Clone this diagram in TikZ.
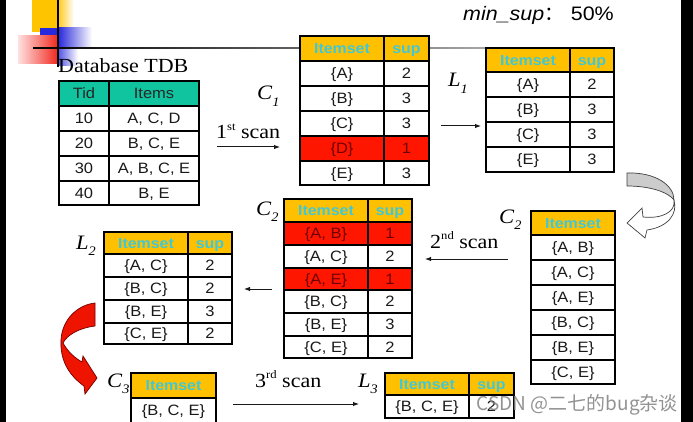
\documentclass[tikz,border=0pt]{standalone}
\usepackage{fontspec}
\setmainfont{Liberation Serif}[FakeStretch=1.1]
\setsansfont{Liberation Sans}[FakeStretch=1.1]
\newfontfamily\cjkfont{Noto Sans CJK SC}
\usetikzlibrary{arrows.meta}

\definecolor{hdrgold}{RGB}{255,192,0}
\definecolor{itemcyan}{RGB}{64,200,214}
\definecolor{tdbteal}{RGB}{16,196,160}
\definecolor{rowred}{RGB}{255,22,0}
\definecolor{redtext}{RGB}{110,0,0}
\definecolor{decoyellow}{RGB}{255,196,0}
\definecolor{decoblue}{RGB}{40,40,220}
\definecolor{decored}{RGB}{240,40,30}
\definecolor{arrowred}{RGB}{238,20,0}

\tikzset{
  tabfont/.style={font=\sffamily\fontsize{15}{16}\selectfont},
  celltxt/.style={tabfont,inner sep=0pt,text height=10.6pt,text depth=0pt},
  hdr box/.style={draw=black,line width=1.2pt,fill=hdrgold},
  hdr txt/.style={celltxt,font=\sffamily\bfseries\fontsize{14.5}{15}\selectfont,text=itemcyan},
  pl box/.style={draw=black,line width=1.2pt,fill=white},
  pl txt/.style={celltxt,text=black!90},
  red box/.style={draw=black,line width=1.2pt,fill=rowred},
  red txt/.style={celltxt,text=redtext},
  tdb box/.style={draw=black,line width=1.2pt,fill=tdbteal},
  tdb txt/.style={celltxt,text=black!85},
  lbl/.style={font=\fontsize{20.5}{20}\selectfont,inner sep=0pt,anchor=base west},
  scanlbl/.style={font=\fontsize{20}{20}\selectfont,inner sep=0pt,anchor=base west},
  flow/.style={-{Latex[length=6pt,width=4.5pt]},line width=1pt,black!90},
}

\newcommand\tworow[9]{%
  \path[#7 box] (#2,#5) rectangle (#3,#6);
  \path[#7 box] (#3,#5) rectangle (#4,#6);
  \node[#7 txt] (#1a) at ({(#2+#3)/2},{(#5+#6)/2}) {#8};
  \node[#7 txt] (#1b) at ({(#3+#4)/2},{(#5+#6)/2}) {#9};}
\newcommand\onerow[7]{%
  \path[#6 box] (#2,#4) rectangle (#3,#5);
  \node[#6 txt] (#1) at ({(#2+#3)/2},{(#4+#5)/2}) {#7};}
\newcommand\setlab[2]{\textit{#1}\raisebox{-0.3em}{\fontsize{13}{13}\selectfont\textit{#2}}}
\newcommand\sups[1]{\raisebox{0.42em}{\fontsize{11.5}{12}\selectfont #1}}

\begin{document}
\begin{tikzpicture}[x=1pt,y=-1pt]
\fill[white] (0,0) rectangle (693,422);
\useasboundingbox (0,0) rectangle (693,422);

% decoration, top left
\fill[decoyellow] (32,0) rectangle (56,32);
\shade[left color=decoyellow,right color=white] (56,0) rectangle (74,32);
\fill[decoblue] (40,28) rectangle (58,48);
\shade[left color=decoblue,right color=white] (58,28) rectangle (92,48);
\shade[left color=decoblue!80,right color=white] (58,48) rectangle (78,66);
\shade[left color=red!12,right color=decored] (18,36) rectangle (58,64);
\fill[black] (57.2,0) rectangle (58.8,67);
\shade[left color=black,right color=black!35] (33,47.3) rectangle (486,48.7);

% side bars
\fill[black] (0,0) rectangle (6,422);
\fill[black] (681,0) rectangle (693,422);

% min_sup
\node[inner sep=0pt,anchor=base west,font=\sffamily\fontsize{19.5}{20}\selectfont] (minsup) at (463,21) {\textit{min\_sup}{\cjkfont ：}};
\node[inner sep=0pt,anchor=base east,font=\sffamily\fontsize{19.5}{20}\selectfont] (minval) at (614,21) {50\%};

% Database TDB
\node[scanlbl] (tdbtitle) at (58,73) {Database TDB};
\tworow{tdbh}{59}{109}{199}{81}{106}{tdb}{Tid}{Items}
\tworow{tdbr1}{59}{109}{199}{106}{131}{pl}{10}{A, C, D}
\tworow{tdbr2}{59}{109}{199}{131}{156}{pl}{20}{B, C, E}
\tworow{tdbr3}{59}{109}{199}{156}{181}{pl}{30}{A, B, C, E}
\tworow{tdbr4}{59}{109}{199}{181}{205}{pl}{40}{B, E}

% C1
\node[lbl] (c1lab) at (257,100) {\setlab{C}{1}};
\tworow{c1h}{300}{384}{429}{36}{61}{hdr}{Itemset}{sup}
\tworow{c1r1}{300}{384}{429}{61}{86}{pl}{\{A\}}{2}
\tworow{c1r2}{300}{384}{429}{86}{111}{pl}{\{B\}}{3}
\tworow{c1r3}{300}{384}{429}{111}{136}{pl}{\{C\}}{3}
\tworow{c1r4}{300}{384}{429}{136}{161}{red}{\{D\}}{1}
\tworow{c1r5}{300}{384}{429}{161}{185}{pl}{\{E\}}{3}
\node[scanlbl] (scan1) at (216,139) {1\sups{st} scan};
\coordinate (s1from) at (217,147);
\coordinate (s1to) at (280,147);
\draw[flow] (s1from) -- (s1to);

% L1
\node[lbl] (l1lab) at (448,87) {\setlab{L}{1}};
\tworow{l1h}{486}{570}{614}{48}{72}{hdr}{Itemset}{sup}
\tworow{l1r1}{486}{570}{614}{72}{97}{pl}{\{A\}}{2}
\tworow{l1r2}{486}{570}{614}{97}{122}{pl}{\{B\}}{3}
\tworow{l1r3}{486}{570}{614}{122}{147}{pl}{\{C\}}{3}
\tworow{l1r4}{486}{570}{614}{147}{172}{pl}{\{E\}}{3}
\coordinate (l1from) at (441,126);
\coordinate (l1to) at (481,126);
\draw[flow] (l1from) -- (l1to);

% grey curved arrow
\filldraw[fill=gray!40,draw=black!75,line width=0.7pt]
  (627,173) .. controls (655,172) and (674,185) .. (674,200)
  .. controls (668,192) and (650,186) .. (627,186) -- cycle;
\filldraw[fill=white,draw=black!75,line width=0.7pt]
  (674,200) .. controls (676,212) and (662,219) .. (643,217)
  -- (642,208) -- (627,223) -- (645,238) -- (647,230)
  .. controls (668,227) and (678,214) .. (674,200) -- cycle;

% C2 candidates (right)
\node[lbl] (c2rlab) at (499,223) {\setlab{C}{2}};
\onerow{c2rh}{531}{615}{211}{235}{hdr}{Itemset}
\onerow{c2rr1}{531}{615}{235}{260}{pl}{\{A, B\}}
\onerow{c2rr2}{531}{615}{260}{285}{pl}{\{A, C\}}
\onerow{c2rr3}{531}{615}{285}{310}{pl}{\{A, E\}}
\onerow{c2rr4}{531}{615}{310}{335}{pl}{\{B, C\}}
\onerow{c2rr5}{531}{615}{335}{360}{pl}{\{B, E\}}
\onerow{c2rr6}{531}{615}{360}{384}{pl}{\{C, E\}}
\node[scanlbl] (scan2) at (430,248) {2\sups{nd} scan};
\coordinate (s2from) at (508,259);
\coordinate (s2to) at (425,259);
\draw[flow] (s2from) -- (s2to);

% C2 counted (middle)
\node[lbl] (c2mlab) at (256,215) {\setlab{C}{2}};
\tworow{c2mh}{284}{368}{412}{199}{222}{hdr}{Itemset}{sup}
\tworow{c2mr1}{284}{368}{412}{222}{245}{red}{\{A, B\}}{1}
\tworow{c2mr2}{284}{368}{412}{245}{268}{pl}{\{A, C\}}{2}
\tworow{c2mr3}{284}{368}{412}{268}{290}{red}{\{A, E\}}{1}
\tworow{c2mr4}{284}{368}{412}{290}{313}{pl}{\{B, C\}}{2}
\tworow{c2mr5}{284}{368}{412}{313}{336}{pl}{\{B, E\}}{3}
\tworow{c2mr6}{284}{368}{412}{336}{358}{pl}{\{C, E\}}{2}
\coordinate (m2from) at (272,289);
\coordinate (m2to) at (244,289);
\draw[flow] (m2from) -- (m2to);

% L2
\node[lbl] (l2lab) at (76,249) {\setlab{L}{2}};
\tworow{l2h}{104}{188}{232}{232}{254}{hdr}{Itemset}{sup}
\tworow{l2r1}{104}{188}{232}{254}{277}{pl}{\{A, C\}}{2}
\tworow{l2r2}{104}{188}{232}{277}{300}{pl}{\{B, C\}}{2}
\tworow{l2r3}{104}{188}{232}{300}{323}{pl}{\{B, E\}}{3}
\tworow{l2r4}{104}{188}{232}{323}{344}{pl}{\{C, E\}}{2}

% red curved arrow
\filldraw[fill=arrowred,draw=red!45!black,line width=0.7pt]
  (95,303) -- (95,326)
  .. controls (79,328) and (67,335) .. (63,343)
  .. controls (68,352) and (75,358) .. (82,362)
  -- (83,356) -- (97,378) -- (85,394) -- (84,386)
  .. controls (67,374) and (60,358) .. (61,340)
  .. controls (62,320) and (77,305) .. (95,303) -- cycle;

% C3
\node[lbl] (c3lab) at (107,387) {\setlab{C}{3}};
\onerow{c3h}{131}{216}{373}{398}{hdr}{Itemset}
\onerow{c3r1}{131}{216}{398}{423}{pl}{\{B, C, E\}}
\node[scanlbl] (scan3) at (255,387) {3\sups{rd} scan};
\coordinate (s3from) at (233,404);
\coordinate (s3to) at (359,404);
\draw[flow] (s3from) -- (s3to);

% L3
\node[lbl] (l3lab) at (358,387) {\setlab{L}{3}};
\tworow{l3h}{385}{469}{514}{373}{395}{hdr}{Itemset}{sup}
\tworow{l3r1}{385}{469}{514}{395}{418}{pl}{\{B, C, E\}}{2}

% watermark
\node[inner sep=0pt,anchor=base east,text=black!50,opacity=0.85,font=\cjkfont\fontsize{19}{19}\selectfont] (wm) at (678,410) {CSDN @二七的bug杂谈};
\end{tikzpicture}
\end{document}
